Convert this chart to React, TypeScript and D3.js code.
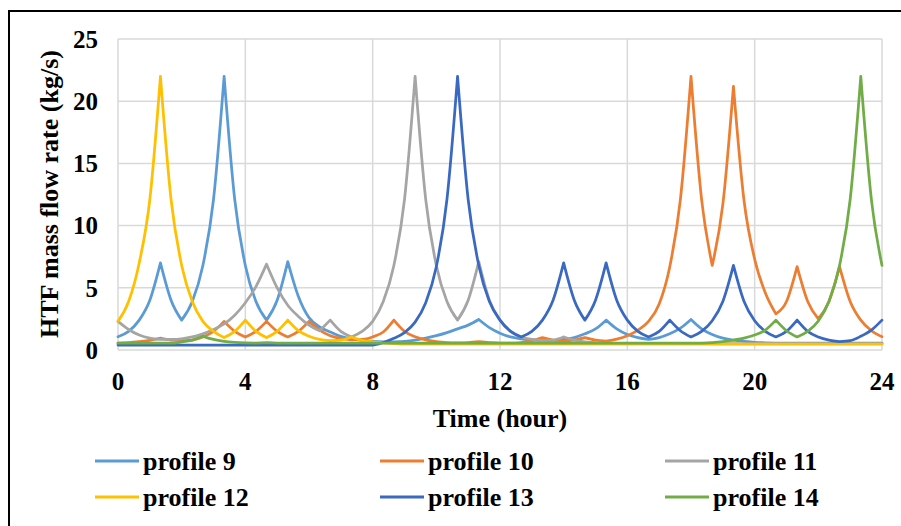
import React from "react";
import * as d3 from "d3";

// Sample times: every 20 minutes over a day (0 .. 24 h)
const hours: number[] = d3.range(0, 73).map((k) => k / 3);

const xTicks = [0, 4, 8, 12, 16, 20, 24];
const yTicks = [0, 5, 10, 15, 20, 25];

const seriesNames = ["profile 9", "profile 10", "profile 11", "profile 12", "profile 13", "profile 14"];
const seriesColors = ["#5B9BD5", "#ED7D31", "#A5A5A5", "#FFC000", "#3A69C2", "#70AD47"];

// HTF mass flow rate (kg/s), one value per 20-minute step
const profile9 = [
  1.07, 1.5, 2.4, 4.0, 7.0, 4.0, 2.4, 3.9, 6.8, 12.1, 22, 12.1, 6.8, 3.9, 2.4, 4.0, 7.1, 4.3, 2.6, 1.85,
  1.45, 1.1, 0.9, 0.78, 0.7, 0.66, 0.65, 0.7, 0.8, 0.95, 1.15, 1.4, 1.7, 2.0, 2.45, 1.8, 1.35, 1.05, 0.9, 0.8,
  0.76, 0.78, 0.85, 1.0, 1.3, 1.7, 2.4, 1.7, 1.25, 1.0, 0.85, 1.0, 1.3, 1.75, 2.45, 1.7, 1.25, 0.95, 0.8, 0.7,
  0.62, 0.58, 0.56, 0.55, 0.55, 0.55, 0.55, 0.55, 0.55, 0.55, 0.55, 0.55, 0.55,
];
const profile10 = [
  0.55, 0.6, 0.68, 0.78, 0.95, 0.8, 0.75, 0.8, 1.05, 1.5, 2.3, 1.5, 1.05, 1.5, 2.3, 1.5, 1.05, 1.5, 2.3, 1.6,
  1.15, 0.93, 0.82, 0.85, 1.05, 1.45, 2.4, 1.5, 1.07, 0.82, 0.68, 0.6, 0.57, 0.6, 0.68, 0.6, 0.55, 0.55, 0.6, 0.75,
  1.0, 0.8, 0.72, 0.8, 1.0, 0.8, 0.72, 0.88, 1.15, 1.6, 2.3, 3.7, 6.7, 12.1, 22, 12.1, 6.8, 11.7, 21.2, 12.0,
  7.3, 4.6, 2.9, 3.9, 6.7, 3.9, 2.5, 3.9, 6.7, 3.9, 2.4, 1.55, 1.07,
];
const profile11 = [
  2.3, 1.65, 1.2, 0.95, 0.85, 0.85, 0.9, 1.05, 1.3, 1.65, 2.1, 2.8, 3.8, 5.1, 6.9, 5.0, 3.6, 2.7, 2.0, 1.55,
  2.4, 1.5, 1.05, 1.5, 2.3, 3.9, 6.8, 12.1, 22, 12.1, 6.8, 3.9, 2.4, 4.0, 7.1, 4.0, 2.4, 1.5, 1.05, 0.85,
  0.75, 0.8, 1.05, 0.8, 0.65, 0.6, 0.55, 0.52, 0.52, 0.52, 0.52, 0.52, 0.52, 0.52, 0.52, 0.52, 0.52, 0.52, 0.52, 0.52,
  0.52, 0.52, 0.52, 0.52, 0.52, 0.52, 0.52, 0.52, 0.52, 0.52, 0.52, 0.52, 0.52,
];
const profile12 = [
  2.3, 3.9, 7.0, 12.1, 22, 12.1, 6.8, 3.9, 2.3, 1.5, 1.0, 1.5, 2.4, 1.5, 1.0, 1.5, 2.4, 1.55, 1.1, 0.85,
  0.75, 0.8, 1.05, 0.78, 0.65, 0.57, 0.52, 0.47, 0.47, 0.47, 0.47, 0.47, 0.47, 0.47, 0.47, 0.47, 0.47, 0.47, 0.47, 0.47,
  0.47, 0.47, 0.47, 0.47, 0.47, 0.47, 0.47, 0.47, 0.47, 0.47, 0.47, 0.47, 0.47, 0.47, 0.47, 0.47, 0.47, 0.47, 0.47, 0.47,
  0.47, 0.47, 0.47, 0.47, 0.47, 0.47, 0.47, 0.47, 0.47, 0.47, 0.47, 0.47, 0.47,
];
const profile13 = [
  0.4, 0.4, 0.4, 0.4, 0.4, 0.4, 0.4, 0.4, 0.4, 0.4, 0.4, 0.4, 0.4, 0.4, 0.4, 0.4, 0.4, 0.4, 0.4, 0.4,
  0.4, 0.4, 0.4, 0.4, 0.4, 0.6, 0.94, 1.4, 2.24, 3.8, 6.7, 12.1, 22, 12.1, 6.8, 3.9, 2.4, 1.5, 1.05, 1.5,
  2.4, 4.0, 7.0, 4.0, 2.4, 4.0, 7.0, 4.0, 2.4, 1.5, 1.05, 1.5, 2.4, 1.55, 1.05, 1.5, 2.35, 3.9, 6.8, 3.9,
  2.35, 1.5, 1.05, 1.5, 2.4, 1.5, 1.05, 0.8, 0.68, 0.75, 1.1, 1.6, 2.4,
];
const profile14 = [
  0.55, 0.55, 0.55, 0.55, 0.55, 0.55, 0.65, 0.8, 1.1, 0.85, 0.7, 0.62, 0.58, 0.56, 0.6, 0.56, 0.55, 0.55, 0.55, 0.55,
  0.55, 0.55, 0.55, 0.55, 0.55, 0.55, 0.55, 0.55, 0.55, 0.55, 0.55, 0.55, 0.55, 0.55, 0.55, 0.55, 0.55, 0.55, 0.55, 0.55,
  0.55, 0.55, 0.55, 0.55, 0.55, 0.55, 0.55, 0.55, 0.55, 0.55, 0.55, 0.55, 0.55, 0.55, 0.55, 0.56, 0.6, 0.68, 0.8, 0.95,
  1.2, 1.6, 2.4, 1.55, 1.05, 1.49, 2.33, 3.9, 6.8, 12.1, 22, 12.1, 6.8,
];

const seriesValues = [profile9, profile10, profile11, profile12, profile13, profile14];

const W = 901;
const H = 526;
const FONT = "'Liberation Serif', 'Times New Roman', serif";

const x = d3.scaleLinear().domain([0, 24]).range([118, 882]);
const y = d3.scaleLinear().domain([0, 25]).range([350, 39]);

const lineGen = d3
  .line<[number, number]>()
  .x((d) => x(d[0]))
  .y((d) => y(d[1]))
  .curve(d3.curveMonotoneX);

// Smooth between turning points, sharp at the peaks and notches
function seriesPath(values: number[]): string {
  const pts: [number, number][] = values.map((v, i) => [hours[i], v]);
  const pieces: [number, number][][] = [];
  let start = 0;
  for (let i = 1; i < pts.length - 1; i++) {
    const a = values[i - 1], b = values[i], c = values[i + 1];
    if ((b > a && b > c) || (b < a && b < c)) {
      pieces.push(pts.slice(start, i + 1));
      start = i;
    }
  }
  pieces.push(pts.slice(start));
  return pieces.map((p) => lineGen(p) || "").join("");
}

const legendCols = [95, 380, 665];
const legendRows = [461, 497];

export default function App() {
  return (
    <div style={{ position: "fixed", left: 0, top: 0, width: W, height: H, background: "#fff" }}>
      <svg width={W} height={H} viewBox={`0 0 ${W} ${H}`} style={{ display: "block" }}>
        <rect x={0} y={0} width={W} height={H} fill="#fff" />
        {/* frame */}
        <path d={`M9,${H + 2} V11 H${W + 2}`} fill="none" stroke="#000" strokeWidth={2} />

        {/* gridlines */}
        <g stroke="#d9d9d9" strokeWidth={1.5} fill="none">
          {yTicks.map((t) => (
            <line key={"h" + t} x1={x(0)} x2={x(24)} y1={y(t)} y2={y(t)} />
          ))}
          {xTicks.map((t) => (
            <line key={"v" + t} x1={x(t)} x2={x(t)} y1={y(0)} y2={y(25)} />
          ))}
        </g>

        {/* series */}
        <g fill="none" strokeWidth={2.75} strokeLinejoin="round" strokeLinecap="round">
          {seriesValues.map((vals, i) => (
            <path key={seriesNames[i]} d={seriesPath(vals)} stroke={seriesColors[i]} />
          ))}
        </g>

        {/* tick labels */}
        <g fontFamily={FONT} fontWeight="bold" fontSize={25} fill="#000">
          {yTicks.map((t) => (
            <text key={"yl" + t} x={98} y={y(t)} textAnchor="end" dy="0.35em">
              {t}
            </text>
          ))}
          {xTicks.map((t) => (
            <text key={"xl" + t} x={x(t)} y={390} textAnchor="middle">
              {t}
            </text>
          ))}
        </g>

        {/* axis titles */}
        <text
          transform={`translate(49,194) rotate(-90)`}
          textAnchor="middle"
          dy="0.35em"
          fontFamily={FONT}
          fontWeight="bold"
          fontSize={26}
        >
          HTF mass flow rate (kg/s)
        </text>
        <text x={500} y={418} textAnchor="middle" dy="0.35em" fontFamily={FONT} fontWeight="bold" fontSize={26}>
          Time (hour)
        </text>

        {/* legend */}
        <g fontFamily={FONT} fontWeight="bold" fontSize={26}>
          {seriesNames.map((name, i) => {
            const cx = legendCols[i % 3];
            const cy = legendRows[Math.floor(i / 3)];
            return (
              <g key={"lg" + name}>
                <line x1={cx} x2={cx + 44} y1={cy} y2={cy} stroke={seriesColors[i]} strokeWidth={3} />
                <text x={cx + 48} y={cy} dy="0.35em">
                  {name}
                </text>
              </g>
            );
          })}
        </g>
      </svg>
    </div>
  );
}
